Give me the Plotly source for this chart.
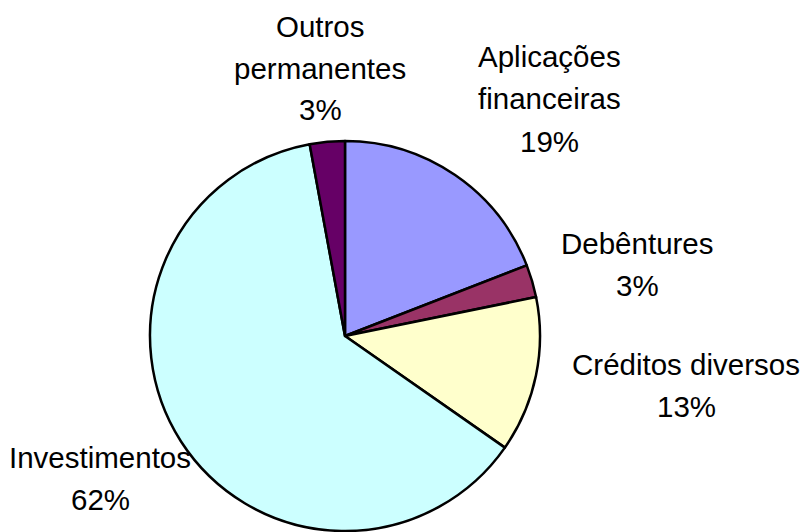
import plotly.graph_objects as go

# Data
categories = ["Aplicações financeiras", "Debêntures", "Créditos diversos", "Investimentos", "Outros permanentes"]
values = [19.1, 2.7, 12.9, 62.4, 2.9]
label_lines = [["Aplicações", "financeiras"], ["Debêntures"], ["Créditos diversos"], ["Investimentos"], ["Outros", "permanentes"]]
colors = ["#9999FF", "#993366", "#FFFFCC", "#CCFFFF", "#660066"]

W, H = 803, 532
total = sum(values)
percents = [f"{round(v / total * 100)}%" for v in values]

# label anchor (pixel centre of first line) per slice
label_pos = [(549, 57), (637, 243), (686, 364), (100, 457), (320, 26)]
line_gap = 42
font = dict(family="Liberation Sans, Arial, sans-serif", size=29.5, color="black")

fig = go.Figure(go.Pie(
    labels=categories,
    values=values,
    sort=False,
    direction="clockwise",
    rotation=0,
    marker=dict(colors=colors, line=dict(color="black", width=2.5)),
    textinfo="none",
    hoverinfo="label+percent",
    domain=dict(x=[150 / W, 540 / W], y=[1 - 531 / H, 1 - 141 / H]),
    showlegend=False,
))

annotations = []
for lines, pct, (px, py) in zip(label_lines, percents, label_pos):
    for i, t in enumerate(lines + [pct]):
        annotations.append(dict(
            x=px / W, y=1 - (py + i * line_gap) / H, xref="paper", yref="paper",
            text=t, showarrow=False, xanchor="center", yanchor="middle", font=font,
        ))

fig.update_layout(
    width=W, height=H,
    margin=dict(l=0, r=0, t=0, b=0),
    paper_bgcolor="white", plot_bgcolor="white",
    annotations=annotations,
)

fig.write_html(
    "out.html",
    config={"displayModeBar": False},
    post_script="document.body.style.margin='0';document.body.style.overflow='hidden';",
)
